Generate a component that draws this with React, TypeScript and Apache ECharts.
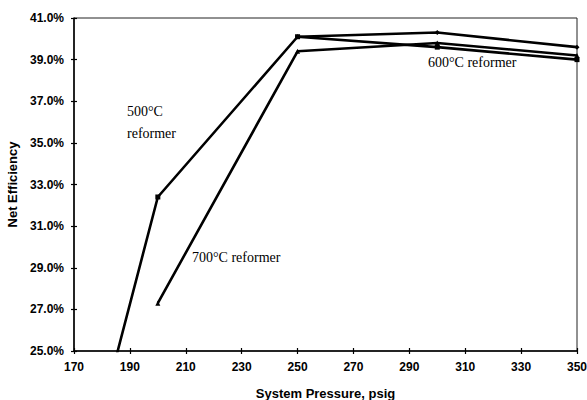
import React, { useEffect, useRef } from "react";
import * as echarts from "echarts";

const xTicks = [170, 190, 210, 230, 250, 270, 290, 310, 330, 350];
const yTicks = [25, 27, 29, 31, 33, 35, 37, 39, 41];

const p500 = [180, 200, 250, 300, 350];
const v500 = [22.1, 32.4, 40.1, 39.6, 39.0];
const p600 = [250, 300, 350];
const v600 = [40.1, 40.3, 39.6];
const p700 = [200, 250, 300, 350];
const v700 = [27.3, 39.4, 39.8, 39.2];

const labels = [
  { text: "500°C\nreformer", x: 127, y: 100 },
  { text: "700°C reformer", x: 192, y: 246 },
  { text: "600°C reformer", x: 428, y: 51 },
];

const zip = (xs: number[], ys: number[]) => xs.map((x, i) => [x, ys[i]]);

export default function App() {
  const ref = useRef<HTMLDivElement>(null);
  useEffect(() => {
    if (!ref.current) return;
    const chart = echarts.init(ref.current, undefined, { renderer: "svg" });
    const sansBold = { fontFamily: "Liberation Sans", fontWeight: "bold" as const, color: "#000" };
    const xMin = xTicks[0], xMax = xTicks[xTicks.length - 1];
    const yMin = yTicks[0], yMax = yTicks[yTicks.length - 1];
    const lineSeries = (name: string, data: number[][], symbol: string, size: number) => ({
      name,
      type: "line",
      data,
      symbol,
      symbolSize: size,
      clip: true,
      lineStyle: { color: "#000", width: 2.6 },
      itemStyle: { color: "#000" },
      xAxisIndex: 0,
      yAxisIndex: 0,
    });
    chart.setOption({
      animation: false,
      backgroundColor: "#fff",
      grid: {
        left: 74,
        right: 10,
        top: 18,
        bottom: 49,
        show: true,
        borderColor: "#222",
        borderWidth: 1,
        containLabel: false,
        outerBoundsMode: "none",
      },
      xAxis: [
        {
          type: "value",
          min: xMin,
          max: xMax,
          interval: 20,
          name: "System Pressure, psig",
          nameLocation: "middle",
          nameGap: 36,
          nameTextStyle: { ...sansBold, fontSize: 13 },
          axisLine: { lineStyle: { color: "#000", width: 1.5 } },
          axisTick: { show: true, inside: false, length: 3, lineStyle: { color: "#000", width: 1.2 } },
          axisLabel: { ...sansBold, fontSize: 12, margin: 10 },
          splitLine: { show: false },
        },
        {
          type: "value",
          min: xMin,
          max: xMax,
          interval: 20,
          position: "bottom",
          axisLine: { show: false },
          axisTick: { show: true, inside: true, length: 3, lineStyle: { color: "#000", width: 1.2 } },
          axisLabel: { show: false },
          splitLine: { show: false },
        },
      ],
      yAxis: [
        {
          type: "value",
          min: yMin,
          max: yMax,
          interval: 2,
          name: "Net Efficiency",
          nameLocation: "middle",
          nameGap: 52,
          nameTextStyle: { ...sansBold, fontSize: 13 },
          axisLine: { show: true, lineStyle: { color: "#000", width: 1.5 } },
          axisTick: { show: true, inside: false, length: 3, lineStyle: { color: "#000", width: 1.2 } },
          axisLabel: {
            ...sansBold,
            fontSize: 12,
            margin: 10,
            formatter: (v: number) => `${v.toFixed(1)}%`,
          },
          splitLine: { show: false },
        },
        {
          type: "value",
          min: yMin,
          max: yMax,
          interval: 2,
          position: "left",
          axisLine: { show: false },
          axisTick: { show: true, inside: true, length: 3, lineStyle: { color: "#000", width: 1.2 } },
          axisLabel: { show: false },
          splitLine: { show: false },
        },
      ],
      series: [
        lineSeries("500°C reformer", zip(p500, v500), "rect", 5),
        lineSeries("600°C reformer", zip(p600, v600), "diamond", 5),
        lineSeries("700°C reformer", zip(p700, v700), "triangle", 5),
      ],
      graphic: labels.map((l) => ({
        type: "text",
        x: l.x,
        y: l.y,
        style: {
          text: l.text,
          fontFamily: "Liberation Serif",
          fontSize: 14,
          lineHeight: 22,
          fill: "#000",
        },
      })),
    });
    return () => chart.dispose();
  }, []);
  return (
    <div
      ref={ref}
      style={{ position: "absolute", left: 0, top: 0, width: 587, height: 400, background: "#fff" }}
    />
  );
}
